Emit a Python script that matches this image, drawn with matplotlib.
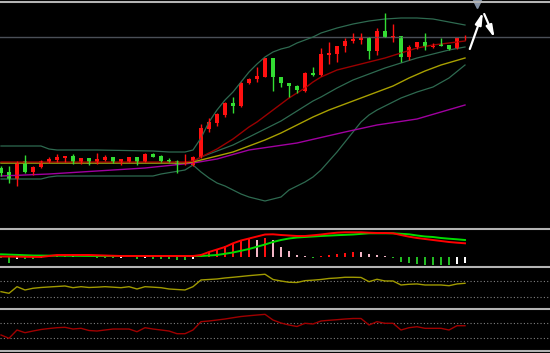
import matplotlib
matplotlib.use('Agg')
import matplotlib.pyplot as plt
from matplotlib.lines import Line2D

# candles (price units are arbitrary)
opens = [62, 58, 51, 69, 58, 63, 68, 70, 72, 74, 67, 72, 66, 70, 73, 67, 68, 73, 68, 76,
         74, 70, 69, 66, 65, 73, 101, 107, 115, 127, 124, 147, 151, 153, 172, 153, 147, 144, 139, 157,
         155, 175, 176, 184, 189, 190, 193, 179, 199, 193, 194, 173, 183, 188, 183, 186, 185, 182, 192]
highs = [64, 64, 69, 75, 64, 70, 73, 76, 74, 76, 72, 72, 77, 75, 73, 71, 73, 73, 77, 77,
         75, 72, 70, 76, 74, 106, 112, 117, 128, 133, 148, 152, 163, 172, 172, 153, 147, 145, 158, 163,
         182, 188, 184, 192, 197, 197, 193, 202, 217, 206, 194, 185, 188, 197, 187, 192, 185, 192, 195]
lows = [54, 47, 44, 57, 55, 62, 67, 68, 68, 66, 66, 65, 66, 69, 67, 65, 68, 65, 68, 73,
        68, 68, 57, 65, 64, 72, 98, 104, 113, 117, 123, 146, 148, 153, 139, 143, 133, 137, 138, 154,
        154, 166, 168, 178, 187, 186, 171, 175, 193, 188, 168, 170, 181, 180, 182, 184, 180, 181, 190]
closes = [57, 51, 68, 58, 63, 69, 71, 73, 74, 68, 72, 66, 71, 73, 68, 71, 73, 67, 76, 73,
          69, 68, 65, 68, 73, 102, 108, 116, 127, 124, 147, 151, 154, 172, 153, 147, 144, 140, 157, 155,
          176, 177, 184, 189, 191, 193, 179, 199, 193, 194, 173, 183, 188, 183, 184, 184, 181, 192, 193]

# overlay lines (bar index, value)
bb_up_idx = [0, 5, 6, 7, 12, 19, 21, 23, 24, 25, 26, 27, 28, 29, 30, 31, 32, 33, 34, 35, 36, 37, 38, 39, 40,
             42, 44, 46, 48, 50, 52, 54, 56, 58]
bb_up = [84, 84, 81, 80, 80, 79, 78, 78, 80, 92, 108, 120, 130, 138, 148, 158, 166, 173, 178, 181, 183, 187,
         190, 193, 197, 202, 206, 209, 211, 212, 212, 211, 208, 205]
bb_lo_idx = [0, 5, 6, 7, 19, 20, 23, 24, 25, 26, 27, 28, 29, 30, 31, 32, 33, 34, 35, 36, 37, 38, 39, 40,
             41, 42, 43, 44, 45, 46, 47, 48, 50, 52, 54, 56, 58]
bb_lo = [51, 51, 53, 54, 54, 56, 60, 65, 58, 52, 47, 44, 40, 36, 33, 31, 29, 31, 33, 40, 44, 48, 53, 60,
         69, 78, 88, 98, 108, 115, 120, 124, 132, 138, 143, 152, 165]
bb_mid_idx = [0, 12, 23, 24, 25, 26, 27, 28, 29, 30, 31, 32, 33, 34, 35, 36, 37, 38, 39, 40, 42, 44, 46,
              48, 50, 52, 54, 56, 58]
bb_mid = [67, 67, 67, 68, 73, 76, 79, 82, 85, 89, 93, 97, 101, 105, 109, 114, 119, 124, 129, 133, 142, 150,
          156, 162, 167, 172, 176, 180, 183]
ma_red_idx = [0, 23, 24, 25, 26, 27, 28, 29, 30, 31, 32, 33, 34, 35, 36, 37, 38, 39, 40, 42, 44, 46, 48,
              50, 52, 54, 56, 58]
ma_red = [68, 68, 69, 73, 77, 81, 86, 91, 97, 103, 108, 114, 120, 126, 132, 137, 142, 148, 153, 160, 164,
          168, 172, 177, 182, 185, 187, 189]
ma_olive_idx = [0, 23, 24, 25, 27, 29, 31, 33, 35, 37, 39, 41, 43, 45, 47, 49, 51, 53, 55, 58]
ma_olive = [67, 67, 68, 70, 74, 78, 84, 90, 97, 105, 113, 120, 126, 132, 138, 144, 152, 159, 165, 172]
ma_purple_idx = [0, 6, 12, 18, 24, 27, 31, 37, 43, 47, 52, 58]
ma_purple = [54, 56, 59, 62, 67, 71, 80, 87, 98, 105, 111, 125]
level_line = 193

# MACD panel
macd_idx = [0, 5, 7, 11, 15, 23, 24, 25, 26, 27, 28, 29, 30, 31, 32, 33, 34, 35, 36, 37, 38, 39, 40, 41,
            42, 43, 44, 45, 46, 47, 48, 49, 50, 51, 52, 53, 54, 55, 56, 57, 58]
macd_main = [0.5, 0, 2, 2, 1, 1, 1, 2, 5, 7.5, 10, 13.7, 16.5, 18.5, 20.5, 22.5, 22.7, 22, 21.5, 21, 21,
             21.7, 22.5, 23.5, 24.3, 24.7, 24.7, 24.7, 24.3, 24, 24, 23.7, 22, 20.3, 19, 18, 17, 16, 15,
             14.3, 13.7]
sig_idx = [0, 4, 12, 24, 25, 27, 29, 31, 33, 34, 35, 36, 37, 38, 40, 42, 44, 46, 48, 49, 50, 51, 52, 53,
           54, 55, 56, 57, 58]
macd_signal = [2.7, 1.5, 1, 1, 1, 2, 4.5, 8, 12.5, 15, 17, 18.5, 19.5, 20, 21, 21.8, 22.5, 23.7, 23.7,
               23.7, 23.2, 22.7, 21.5, 20.5, 20, 19, 18.3, 17.7, 17]
macd_hist = [-1, -5.5, -2, -2, -2, -0.5, 0.5, 1, 1.5, 1, 0.5, 0.3, -0.5, -1, -1, -0.5, -0.3, -1.5, -0.5,
             -1.5, -2, -2, -2.5, -2.5, -1.5, 2.7, 5.3, 8, 11, 12.7, 16, 18, 17, 18.7, 17, 10.3, 6, 2, 1,
             -1, 1, 2, 3, 4.3, 5.3, 5, 3, 2.5, 0.8, -1.3, -4.7, -6.3, -7, -8, -8, -8, -8.2, -7.3, -6.3]

# oscillator panels
rsi = [42.2, 38.1, 54.8, 46.5, 50.8, 52.8, 54.1, 55.3, 56.6, 52.3, 54.8, 52.8, 53.6, 54.8, 53.6, 52.3,
       54.8, 49.0, 54.8, 53.6, 52.3, 49.0, 47.7, 46.5, 54.8, 71.8, 73.0, 74.3, 76.8, 78.6, 80.6, 82.7,
       84.4, 86.2, 73.0, 69.2, 66.0, 65.4, 70.0, 71.3, 73.0, 75.6, 76.8, 78.6, 78.6, 78.1, 67.5, 73.5,
       69.2, 69.2, 59.1, 60.9, 61.7, 59.1, 59.1, 59.1, 57.3, 61.7, 63.4]
osc2 = [38.5, 30.0, 51.3, 44.4, 48.7, 52.6, 55.1, 57.2, 58.2, 53.8, 55.6, 50.0, 48.7, 51.3, 53.8, 53.8,
        53.8, 46.9, 57.2, 53.8, 51.3, 48.7, 41.8, 41.8, 51.3, 72.6, 74.4, 76.9, 79.5, 82.8, 85.9, 87.9,
        89.7, 91.5, 76.9, 69.2, 64.1, 60.3, 68.5, 66.7, 74.4, 76.2, 77.7, 79.5, 80.8, 80.8, 64.1, 72.6,
        68.5, 68.5, 51.3, 57.2, 59.7, 55.6, 55.6, 55.6, 51.3, 62.3, 62.3]
osc_levels = [30, 70]

# arrows and marker drawn at the right edge
arrow_x = [58.6, 60.25, 60.4, 61.7]
arrow_y = [181, 218, 216, 192]
shift_x = 59.5
shift_y = 226

H = 353.0
fig = plt.figure(figsize=(5.5, 3.53), dpi=100, facecolor='black')


def add_panel(top, bottom):
    ax = fig.add_axes([0, 1 - bottom / H, 1, (bottom - top) / H])
    ax.set_xlim(-0.125, 68.625)
    ax.set_axis_off()
    return ax


ax = add_panel(0, 228)
ax.set_ylim(2, 230)
ax.axhline(level_line, color='#4a4f57', lw=1)
ax.plot(bb_up_idx, bb_up, color='#2e6a50', lw=0.9)
ax.plot(bb_lo_idx, bb_lo, color='#2e6a50', lw=0.9)
ax.plot(bb_mid_idx, bb_mid, color='#2e6a50', lw=0.9)
ax.plot(ma_purple_idx, ma_purple, color='#a000a0', lw=1)
ax.plot(ma_olive_idx, ma_olive, color='#a8a000', lw=1)
ax.plot(ma_red_idx, ma_red, color='#9a0000', lw=1)

for i in range(len(opens)):
    c = '#ff1010' if closes[i] >= opens[i] else '#33dd33'
    ax.vlines(i, lows[i], highs[i], color=c, lw=1)
    lo = min(opens[i], closes[i])
    h = max(abs(closes[i] - opens[i]), 1.2)
    ax.bar(i, h, bottom=lo, width=0.62, color=c, linewidth=0)

arrow_style = dict(arrowstyle='-|>,head_length=0.7,head_width=0.18', color='white',
                   lw=1.6, mutation_scale=10, shrinkA=0, shrinkB=0)
ax.annotate('', xy=(arrow_x[1], arrow_y[1]), xytext=(arrow_x[0], arrow_y[0]), arrowprops=arrow_style)
ax.annotate('', xy=(arrow_x[3], arrow_y[3]), xytext=(arrow_x[2], arrow_y[2]), arrowprops=arrow_style)
ax.plot(shift_x, shift_y, marker='v', color='#8391a5', markersize=6, clip_on=False)

# MACD
ax2 = add_panel(230, 266)
ax2.set_ylim(-9, 27)
hist_colors = []
for i, v in enumerate(macd_hist):
    prev = macd_hist[i - 1] if i > 0 else v
    if v >= 0:
        hist_colors.append('#ff1010' if v >= prev else '#f2b6c6')
    else:
        hist_colors.append('#22bb22' if v <= prev else '#ffffff')
ax2.bar(range(len(macd_hist)), macd_hist, width=0.28, color=hist_colors, linewidth=0)
ax2.plot(sig_idx, macd_signal, color='#00dd00', lw=1.4)
ax2.plot(macd_idx, macd_main, color='#ff0000', lw=1.4)

# oscillators
ax3 = add_panel(268, 307)
ax3.set_ylim(3.5, 102)
for lv in osc_levels:
    ax3.axhline(lv, color='#808080', lw=0.8, ls=(0, (1, 2)))
ax3.plot(range(len(rsi)), rsi, color='#a09a00', lw=1)

ax4 = add_panel(310, 350)
ax4.set_ylim(0, 102.6)
for lv in osc_levels:
    ax4.axhline(lv, color='#808080', lw=0.8, ls=(0, (1, 2)))
ax4.plot(range(len(osc2)), osc2, color='#a00000', lw=1)

# panel separators
for yp in [1.5, 229, 267, 308.5, 351]:
    fig.add_artist(Line2D([0, 1], [1 - yp / H] * 2, color='#b4b4b4', lw=1.5))

fig.savefig('out.png', dpi=100, facecolor='black')
